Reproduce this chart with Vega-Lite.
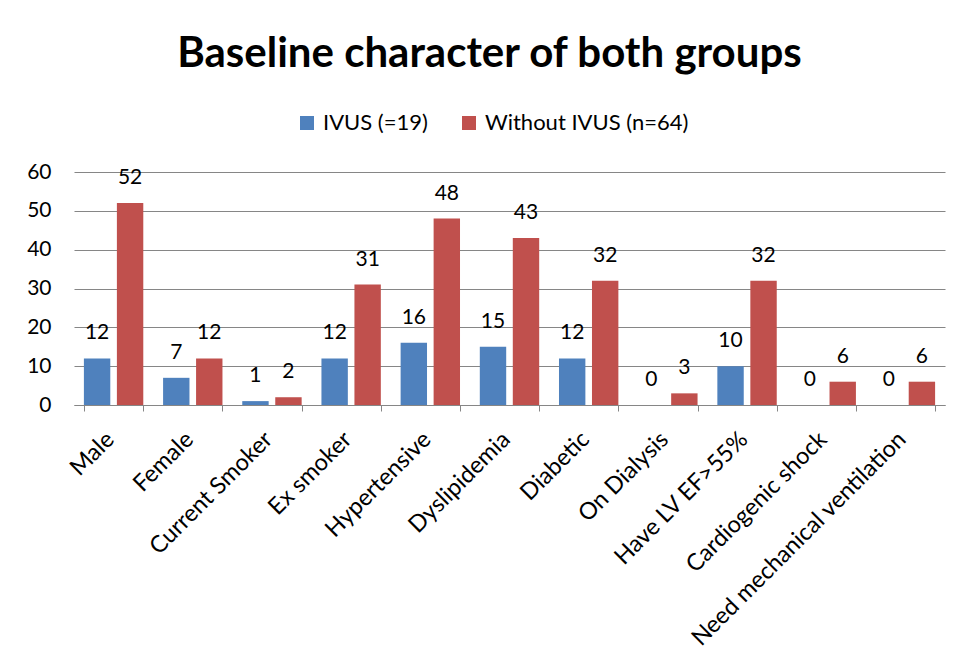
{
  "$schema": "https://vega.github.io/schema/vega-lite/v6.json",
  "width": 871,
  "height": 233,
  "autosize": {"type": "none"},
  "padding": {"left": 74, "top": 172, "right": 14, "bottom": 262},
  "background": "white",
  "title": {
    "text": "Baseline character of both groups",
    "font": "Lato",
    "fontSize": 42,
    "fontWeight": "bold",
    "color": "black",
    "anchor": "middle",
    "dx": -20,
    "offset": 36
  },
  "data": {
    "values": [
      {"cat": "Male", "group": "IVUS (=19)", "value": 12},
      {"cat": "Male", "group": "Without IVUS (n=64)", "value": 52},
      {"cat": "Female", "group": "IVUS (=19)", "value": 7},
      {"cat": "Female", "group": "Without IVUS (n=64)", "value": 12},
      {"cat": "Current Smoker", "group": "IVUS (=19)", "value": 1},
      {"cat": "Current Smoker", "group": "Without IVUS (n=64)", "value": 2},
      {"cat": "Ex smoker", "group": "IVUS (=19)", "value": 12},
      {"cat": "Ex smoker", "group": "Without IVUS (n=64)", "value": 31},
      {"cat": "Hypertensive", "group": "IVUS (=19)", "value": 16},
      {"cat": "Hypertensive", "group": "Without IVUS (n=64)", "value": 48},
      {"cat": "Dyslipidemia", "group": "IVUS (=19)", "value": 15},
      {"cat": "Dyslipidemia", "group": "Without IVUS (n=64)", "value": 43},
      {"cat": "Diabetic", "group": "IVUS (=19)", "value": 12},
      {"cat": "Diabetic", "group": "Without IVUS (n=64)", "value": 32},
      {"cat": "On Dialysis", "group": "IVUS (=19)", "value": 0},
      {"cat": "On Dialysis", "group": "Without IVUS (n=64)", "value": 3},
      {"cat": "Have LV EF>55%", "group": "IVUS (=19)", "value": 10},
      {"cat": "Have LV EF>55%", "group": "Without IVUS (n=64)", "value": 32},
      {"cat": "Cardiogenic shock", "group": "IVUS (=19)", "value": 0},
      {"cat": "Cardiogenic shock", "group": "Without IVUS (n=64)", "value": 6},
      {"cat": "Need mechanical ventilation", "group": "IVUS (=19)", "value": 0},
      {"cat": "Need mechanical ventilation", "group": "Without IVUS (n=64)", "value": 6}
    ]
  },
  "encoding": {
    "x": {
      "field": "cat",
      "type": "nominal",
      "sort": null,
      "scale": {"paddingInner": 0.25, "paddingOuter": 0.125},
      "axis": {
        "title": null,
        "labelAngle": -45,
        "labelAlign": "right",
        "labelBaseline": "top",
        "labelFont": "Lato",
        "labelFontSize": 23.5,
        "labelColor": "black",
        "labelPadding": 16,
        "labelOffset": -12,
        "tickBand": "extent",
        "tickSize": 6,
        "tickColor": "#868686",
        "domainColor": "#868686",
        "labelLimit": 500
      }
    },
    "xOffset": {
      "field": "group",
      "type": "nominal",
      "scale": {"paddingInner": 0.2, "paddingOuter": 0}
    },
    "y": {
      "field": "value",
      "type": "quantitative",
      "scale": {"domain": [0, 60]},
      "axis": {
        "title": null,
        "values": [0, 10, 20, 30, 40, 50, 60],
        "domain": false,
        "ticks": false,
        "labelFont": "Lato",
        "labelFontSize": 21,
        "labelColor": "black",
        "labelPadding": 23,
        "gridColor": "#868686",
        "gridWidth": 1.2
      }
    }
  },
  "layer": [
    {
      "mark": {"type": "bar"},
      "encoding": {
        "color": {
          "field": "group",
          "type": "nominal",
          "scale": {"range": ["#4F81BD", "#C0504D"]},
          "legend": {
            "title": null,
            "orient": "none",
            "legendX": 222,
            "legendY": -60,
            "direction": "horizontal",
            "symbolType": "square",
            "symbolSize": 196,
            "symbolStrokeWidth": 0,
            "labelFont": "Lato",
            "labelFontSize": 22,
            "labelColor": "black",
            "labelLimit": 400,
            "columnPadding": 30,
            "labelOffset": 5
          }
        }
      }
    },
    {
      "mark": {"type": "text", "dy": -25, "font": "Lato", "fontSize": 21, "color": "black"},
      "encoding": {
        "text": {"field": "value", "type": "quantitative"}
      }
    }
  ],
  "config": {
    "view": {"stroke": null}
  }
}
